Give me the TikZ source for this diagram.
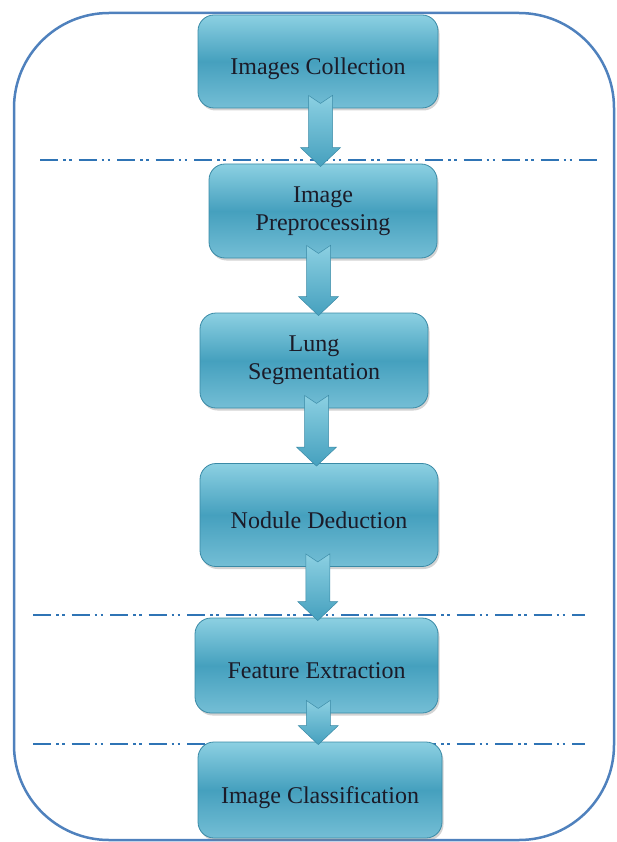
\documentclass[tikz,border=0pt]{standalone}
\usepackage{fontspec}
\setmainfont{Liberation Serif}
\usepackage{tikz}
\usetikzlibrary{shadows,calc}
\definecolor{framebl}{HTML}{4F81BD}
\definecolor{dashbl}{HTML}{2F74B5}
\definecolor{boxedge}{HTML}{3A8AA6}
\definecolor{boxlight}{HTML}{8CD0E2}
\definecolor{boxmid}{HTML}{45A0BE}
\definecolor{boxlow}{HTML}{74BED5}
\definecolor{inkdark}{HTML}{1B1B28}

% block arrow from the bottom of one stage into the top of the next
\newcommand{\blockarrow}[2]{%
  \path[flowarrow] let \p1=(#1.south), \p2=(#2.north), \n1={0.5*\x1+0.5*\x2} in
    (\n1-12pt,\y1+13pt) -- (\n1,\y1+5pt) -- (\n1+12pt,\y1+13pt)
    -- (\n1+12pt,\y2+16pt) -- (\n1+20pt,\y2+16pt) -- (\n1,\y2-3pt)
    -- (\n1-20pt,\y2+16pt) -- (\n1-12pt,\y2+16pt) -- cycle;}

\begin{document}
\begin{tikzpicture}[x=1pt, y=-1pt,
  every node/.style = {align=center, text=inkdark,
    font=\fontsize{24}{28}\selectfont},
  stage/.style = {draw=boxedge, line width=0.8pt, rounded corners=16pt,
    top color=boxlight, bottom color=boxlow, middle color=boxmid,
    drop shadow={opacity=0.35, shadow xshift=1.5pt, shadow yshift=-2.5pt},
    inner sep=4pt},
  oneline/.style = {text height=31pt, text depth=5pt},
  flowarrow/.style = {draw=boxedge, line width=0.5pt,
    top color=boxlight, bottom color=boxmid},
  sepline/.style = {draw=dashbl, line width=2pt,
    dash pattern=on 18pt off 5pt on 2.5pt off 3.5pt on 2.5pt off 7pt}]
  \useasboundingbox (0,0) rectangle (617,842);

  % outer frame
  \draw[framebl, line width=2.5pt, rounded corners=95pt]
    (14,13) rectangle (614,840);

  % separators
  \coordinate (sepAl) at (40,160);  \coordinate (sepAr) at (597,160);
  \coordinate (sepBl) at (33,615);  \coordinate (sepBr) at (585,615);
  \coordinate (sepCl) at (33,744);  \coordinate (sepCr) at (585,744);
  \draw[sepline] (sepAl) -- (sepAr);
  \draw[sepline] (sepBl) -- (sepBr);
  \draw[sepline] (sepCl) -- (sepCr);

  % stages
  \node[stage, oneline, minimum width=240pt, minimum height=93pt]  (collect)  at (318,61.5) {Images Collection};
  \node[stage, minimum width=228pt, minimum height=94pt]  (prep)     at (323,211)  {Image\\ Preprocessing};
  \node[stage, minimum width=228pt, minimum height=95pt]  (lung)     at (314,360.5) {Lung\\ Segmentation};
  \node[stage, oneline, minimum width=238pt, minimum height=103pt] (nodule)   at (319,515)  {Nodule Deduction};
  \node[stage, oneline, minimum width=243pt, minimum height=95pt]  (feature)  at (316.5,665.5) {Feature Extraction};
  \node[stage, oneline, minimum width=244pt, minimum height=96pt]  (classify) at (320,790)  {Image Classification};

  % arrows
  \blockarrow{collect}{prep}
  \blockarrow{prep}{lung}
  \blockarrow{lung}{nodule}
  \blockarrow{nodule}{feature}
  \blockarrow{feature}{classify}
\end{tikzpicture}
\end{document}
